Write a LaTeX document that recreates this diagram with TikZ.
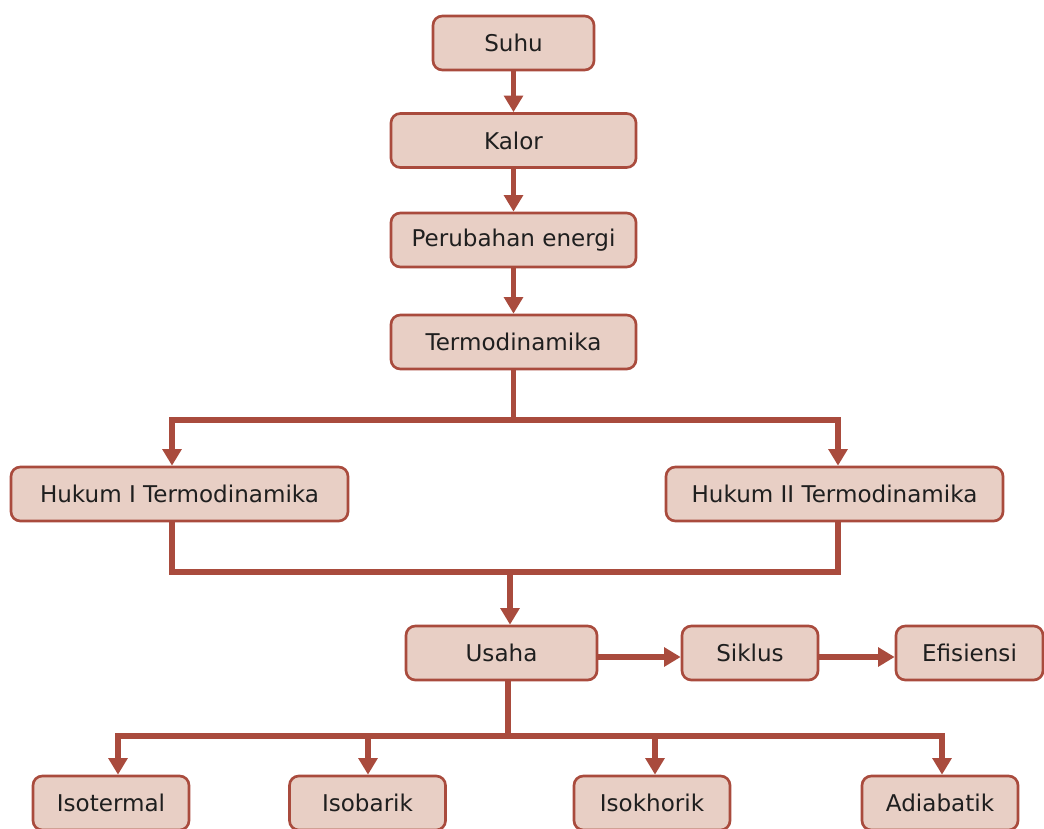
\documentclass[tikz,border=0pt]{standalone}
\usepackage{fontspec}
\setmainfont{DejaVu Sans}
\usetikzlibrary{arrows.meta}

\definecolor{boxfill}{HTML}{E8CFC5}
\definecolor{boxline}{HTML}{A94B3D}

\begin{document}
\begin{tikzpicture}[x=0.75pt, y=-0.75pt,
    topic/.style={draw=boxline, fill=boxfill, line width=2pt, rounded corners=7pt,
        minimum height=40.5pt, inner sep=0pt, text=black!88,
        font=\fontsize{17.3}{20}\selectfont},
    link/.style={draw=boxline, line width=4pt},
    arr/.style={link, -{Triangle[width=14pt,length=12.5pt]}}
]
  \useasboundingbox (0,0) rectangle (1044,828);
  % Topic boxes
  \node[topic, minimum width=120.75pt] (suhu) at (513.5,43) {Suhu};
  \node[topic, minimum width=183.75pt] (kalor) at (513.5,140.5) {Kalor};
  \node[topic, minimum width=183.75pt] (energi) at (513.5,240) {Perubahan energi};
  \node[topic, minimum width=183.75pt] (termo) at (513.5,342) {Termodinamika};
  \node[topic, minimum width=252.75pt] (hk1) at (179.5,494) {Hukum I Termodinamika};
  \node[topic, minimum width=252.75pt] (hk2) at (834.5,494) {Hukum II Termodinamika};
  \node[topic, minimum width=143.25pt] (usaha) at (501.5,653) {Usaha};
  \node[topic, minimum width=102pt] (siklus) at (750,653) {Siklus};
  \node[topic, minimum width=110.25pt] (efisiensi) at (969.5,653) {Efisiensi};
  \node[topic, minimum width=117pt] (isotermal) at (111,803) {Isotermal};
  \node[topic, minimum width=117pt] (isobarik) at (367.5,803) {Isobarik};
  \node[topic, minimum width=117pt] (isokhorik) at (652,803) {Isokhorik};
  \node[topic, minimum width=117pt] (adiabatik) at (940,803) {Adiabatik};
  % Branch points
  \coordinate (t1) at (513,420);
  \coordinate (t1l) at (172,420);
  \coordinate (t1r) at (838,420);
  \coordinate (j1) at (510,572);
  \coordinate (j1l) at (172,572);
  \coordinate (j1r) at (838,572);
  \coordinate (u1) at (508,736);
  \coordinate (u1a) at (118,736);
  \coordinate (u1b) at (368,736);
  \coordinate (u1c) at (655,736);
  \coordinate (u1d) at (942,736);
  % Chain at the top
  \draw[arr] (suhu) -- (kalor);
  \draw[arr] (kalor) -- (energi);
  \draw[arr] (energi) -- (termo);
  % Termodinamika to both laws
  \draw[arr] (termo.south) |- (t1l) -- (t1l |- hk1.north);
  \draw[arr] (t1) -| (t1r |- hk2.north);
  % Both laws to Usaha
  \draw[link] (j1l |- hk1.south) -- (j1l) -- (j1r) -- (j1r |- hk2.south);
  \draw[arr] (j1) -- (j1 |- usaha.north);
  % Usaha, Siklus, Efisiensi
  \draw[arr] ([yshift=-3pt]usaha.east) -- ([yshift=-3pt]siklus.west);
  \draw[arr] ([yshift=-3pt]siklus.east) -- ([yshift=-3pt]efisiensi.west);
  % Usaha to the four processes
  \draw[arr] (u1 |- usaha.south) |- (u1a) -- (u1a |- isotermal.north);
  \draw[arr] (u1) -| (u1d |- adiabatik.north);
  \draw[arr] (u1b) -- (u1b |- isobarik.north);
  \draw[arr] (u1c) -- (u1c |- isokhorik.north);
\end{tikzpicture}
\end{document}
